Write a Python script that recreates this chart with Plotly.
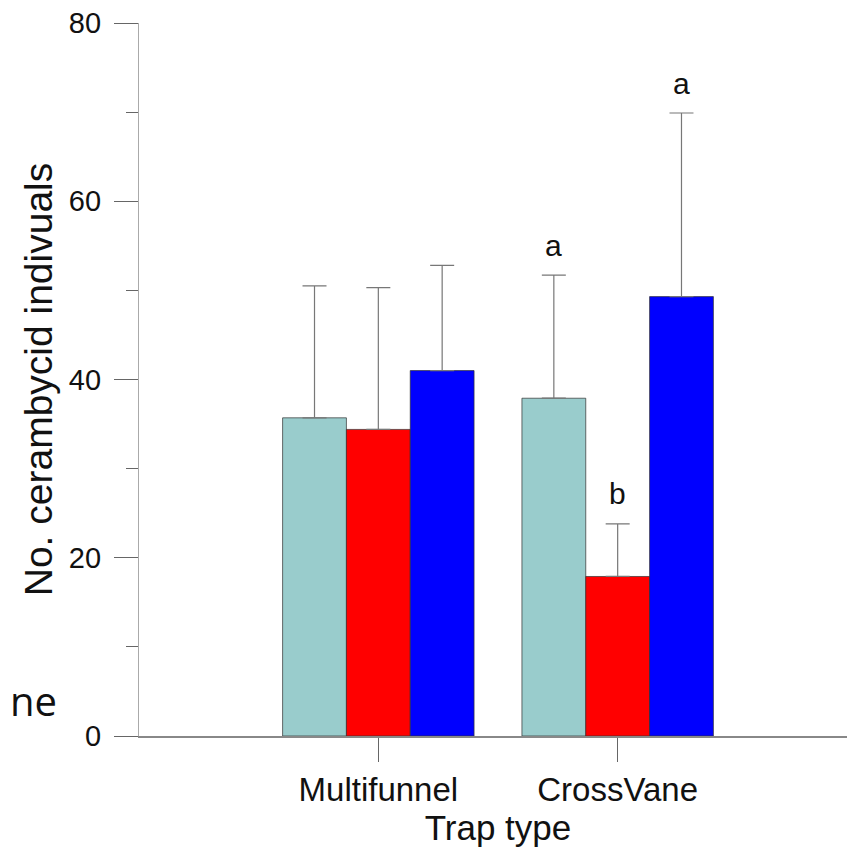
import plotly.graph_objects as go

categories = ["Multifunnel", "CrossVane"]
series_names = ["Series 1", "Series 2", "Series 3"]
series_colors = ["#99CCCC", "#FF0000", "#0000FF"]
means = [
    [35.7, 37.9],   # teal
    [34.4, 17.9],   # red
    [41.0, 49.3],   # blue
]
errors_plus = [
    [14.8, 13.8],
    [15.9, 5.9],
    [11.8, 20.6],
]
letters = [
    ["", "a"],
    ["", "b"],
    ["", "a"],
]

fig = go.Figure()
for name, color, m, e in zip(series_names, series_colors, means, errors_plus):
    fig.add_trace(go.Bar(
        x=categories, y=m, name=name,
        marker=dict(color=color, line=dict(color="rgba(50,50,50,0.7)", width=1)),
        error_y=dict(type="data", array=e, symmetric=False, arrayminus=[0] * len(e),
                     color="#777777", thickness=1.2, width=12),
        showlegend=False,
    ))

# significance letters placed over error bars
offsets = [-0.2667, 0.0, 0.2667]
for k in range(len(series_names)):
    for j, cat in enumerate(categories):
        if letters[k][j]:
            fig.add_annotation(
                x=j + offsets[k], xref="x",
                y=means[k][j] + errors_plus[k][j], yref="y",
                text=letters[k][j], showarrow=False,
                yanchor="middle", yshift=30,
                font=dict(family="Liberation Sans, Arial", size=30, color="#111111"),
            )

# stray text at the left edge of the reference image
fig.add_annotation(
    x=-131 / 718, xref="paper", y=4.0, yref="y",
    text="ne", showarrow=False, xanchor="left", yanchor="middle",
    font=dict(family="Open Sans, Noto Sans", size=40, color="#111111"),
)

fig.update_layout(
    width=855, height=852,
    margin=dict(l=131, r=6, t=15, b=124),
    paper_bgcolor="white", plot_bgcolor="white",
    barmode="group", bargap=0.2, bargroupgap=0.0,
    font=dict(family="Liberation Sans, Arial", color="#111111"),
)
fig.update_xaxes(
    type="category", range=[-1, 2.0], automargin=False,
    showline=True, linecolor="#888888", linewidth=1.5,
    ticks="outside", ticklen=24, tickcolor="#666666", tickwidth=1,
    tickfont=dict(size=33, color="#111111"),
    title=dict(text="Trap type", font=dict(size=35, color="#111111"), standoff=4),
    showgrid=False, zeroline=False,
)
fig.update_yaxes(
    range=[0, 80], tickvals=[0, 20, 40, 60, 80], automargin=False,
    ticklabeloverflow="allow",
    showline=True, linecolor="#AAAAAA", linewidth=1.2,
    ticks="outside", ticklen=24, tickcolor="#666666", tickwidth=1,
    ticklabelstandoff=7,
    minor=dict(tickvals=[10, 30, 50, 70], ticks="outside", ticklen=12, tickcolor="#666666", tickwidth=1),
    tickfont=dict(size=29, color="#111111"),
    title=dict(text="No. cerambycid indivuals", font=dict(size=39, color="#111111"), standoff=4),
    showgrid=False, zeroline=False,
)

fig.write_html("out.html")
